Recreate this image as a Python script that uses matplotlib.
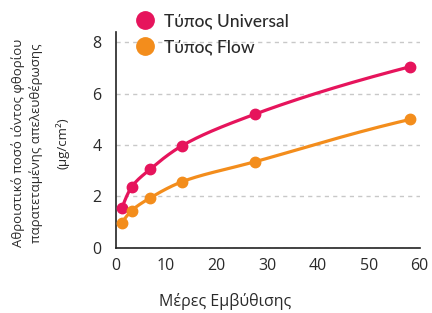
import numpy as np
import matplotlib
matplotlib.use('Agg')
import matplotlib.pyplot as plt
from matplotlib.lines import Line2D

# data
days = [1.3, 3.2, 6.9, 13.1, 27.5, 58.2]
universal = [1.56, 2.37, 3.07, 3.97, 5.2, 7.05]
flow = [0.98, 1.45, 1.95, 2.57, 3.35, 5.0]

labels = ['Τύπος Universal', 'Τύπος Flow']
colors = ['#e6145c', '#f38d1c']

plt.rcParams['font.family'] = ['Open Sans', 'DejaVu Sans']
txt = '#2a2a2a'


def pchip(x, y, xn):
    # monotone cubic through the points, for the smooth line
    x = np.asarray(x, float)
    y = np.asarray(y, float)
    h = np.diff(x)
    d = np.diff(y) / h
    m = np.zeros_like(y)
    m[0], m[-1] = d[0], d[-1]
    for k in range(1, len(x) - 1):
        if d[k - 1] * d[k] > 0:
            w1 = 2 * h[k] + h[k - 1]
            w2 = h[k] + 2 * h[k - 1]
            m[k] = (w1 + w2) / (w1 / d[k - 1] + w2 / d[k])
    i = np.clip(np.searchsorted(x, xn) - 1, 0, len(x) - 2)
    t = (xn - x[i]) / h[i]
    h00 = 2 * t**3 - 3 * t**2 + 1
    h10 = t**3 - 2 * t**2 + t
    h01 = -2 * t**3 + 3 * t**2
    h11 = t**3 - t**2
    return h00 * y[i] + h10 * h[i] * m[i] + h01 * y[i + 1] + h11 * h[i] * m[i + 1]


fig = plt.figure(figsize=(4.32, 3.13), dpi=100)
ax = fig.add_axes([115.5 / 432, 0.208, 304 / 432, 0.69])

sx = np.sqrt(days)
xs = np.linspace(sx[0], sx[-1], 300)
for ys, c in zip([universal, flow], colors):
    ax.plot(xs ** 2, pchip(sx, ys, xs), color=c, lw=2.3, zorder=3)
    ax.plot(days, ys, 'o', color=c, ms=7.5, zorder=4)

ax.set_xlim(0, 60)
ax.set_ylim(0, 8.4)
ax.set_xticks(range(0, 61, 10))
ax.set_yticks(range(0, 9, 2))
ax.tick_params(length=0, labelsize=11.5, colors=txt)
ax.tick_params(axis='x', pad=7)
ax.tick_params(axis='y', pad=10)
for s in ['top', 'right']:
    ax.spines[s].set_visible(False)
for s in ['left', 'bottom']:
    ax.spines[s].set_linewidth(1.2)
    ax.spines[s].set_color('#222222')
ax.grid(axis='y', ls=(0, (3, 3)), color='#c8c8c8', lw=1)
ax.set_axisbelow(True)

fig.text(225 / 432, 1 - 302 / 313, 'Μέρες Εμβύθισης', fontsize=11.5, color=txt,
         ha='center', va='center')
fig.text(18 / 432, 1 - 143 / 313, 'Αθροιστικό ποσό ιόντος φθορίου',
         fontsize=9.5, color=txt, rotation=90, ha='center', va='center')
fig.text(36 / 432, 1 - 143 / 313, 'παρατεταμένης απελευθέρωσης',
         fontsize=9.5, color=txt, rotation=90, ha='center', va='center')
fig.text(62 / 432, 1 - 143 / 313, '(μg/cm²)',
         fontsize=9.5, color=txt, rotation=90, ha='center', va='center')

handles = [Line2D([], [], marker='o', ls='', color=c, ms=12.5) for c in colors]
ax.legend(handles, labels, loc='upper left', bbox_to_anchor=(128 / 432, 1 - 13 / 313),
          bbox_transform=fig.transFigure, frameon=False,
          prop={'family': ['Lato', 'Open Sans'], 'size': 12.5, 'weight': 'medium'},
          handletextpad=0.05, labelspacing=0.6, labelcolor=txt, borderaxespad=0,
          borderpad=0)

fig.savefig('out.png', dpi=100)
